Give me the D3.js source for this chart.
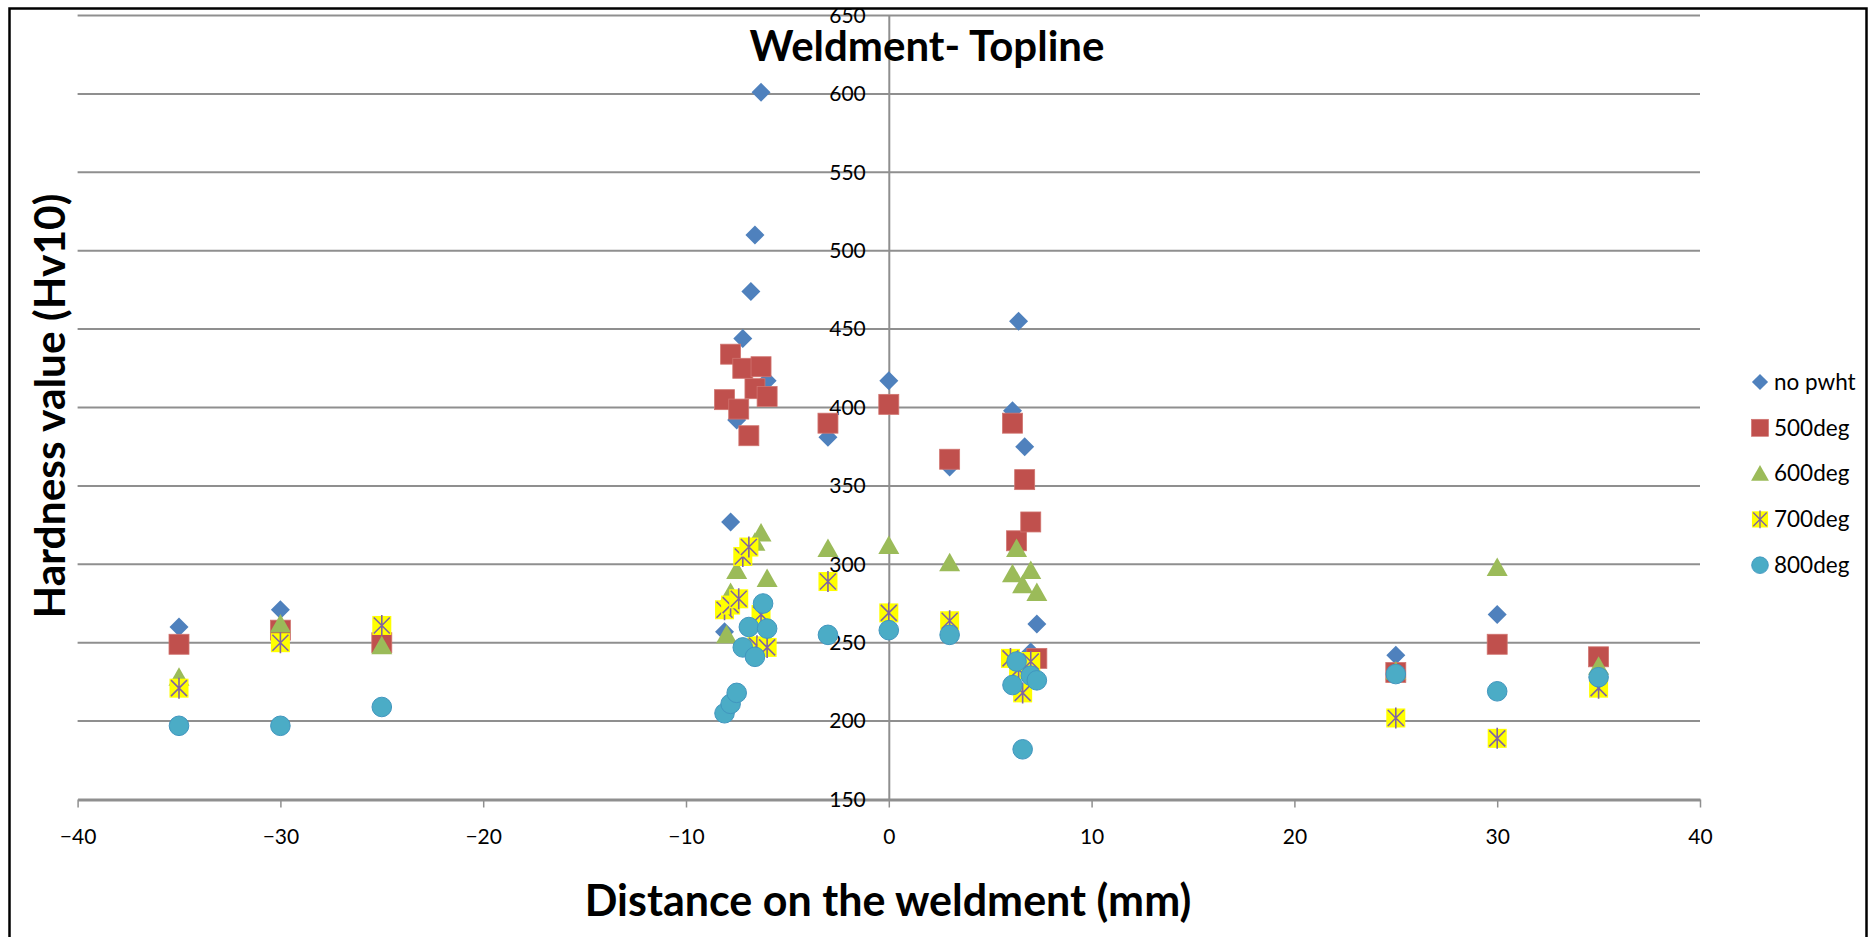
<!DOCTYPE html>
<meta charset="utf-8">
<style>
body {
  margin: 0;
  background: #fff;
}
text {
  font-family: Lato, "Open Sans", sans-serif;
  fill: #000;
}
</style>
<body>
<div id="chart"></div>

<script src="https://d3js.org/d3.v7.min.js"></script>
<script>

// hardness readings per condition: [distance on weldment (mm), Hv10]
var noPwht = [[-35,260],[-30,271],[-8.1,257],[-7.8,327],[-7.5,392],[-7.2,444],[-6.8,474],[-6.6,510],
  [-6.3,601],[-6.0,417],[-3,381],[0,417],[3,362],[6.1,398],[6.4,455],[6.7,375],[7.0,244],[7.3,262],
  [25,242],[30,268]];
var deg500 = [[-35,249],[-30,258],[-25,250],[-8.1,405],[-7.8,434],[-7.4,399],[-7.2,425],[-6.9,382],
  [-6.6,412],[-6.3,426],[-6.0,407],[-3,390],[0,402],[3,367],[6.1,390],[6.3,315],[6.7,354],[7.0,327],
  [7.3,240],[25,231],[30,249],[35,241]];
var deg600 = [[-35,228],[-30,262],[-25,248],[-8.0,255],[-7.8,282],[-7.5,296],[-6.6,314],[-6.3,320],
  [-6.0,291],[-3,310],[0,312],[3,301],[6.1,294],[6.3,310],[6.6,287],[7.0,296],[7.3,282],
  [25,232],[30,298],[35,235]];
var deg700 = [[-35,221],[-30,250],[-25,261],[-8.1,271],[-7.8,274],[-7.4,278],[-7.2,305],[-6.9,311],
  [-6.5,248],[-6.3,268],[-6.0,247],[-3,289],[0,269],[3,264],[6.0,240],[6.4,233],[6.6,218],[7.0,238],
  [25,202],[30,189],[35,221]];
var deg800 = [[-35,197],[-30,197],[-25,209],[-8.1,205],[-7.8,211],[-7.5,218],[-7.2,247],[-6.9,260],
  [-6.6,241],[-6.2,275],[-6.0,259],[-3,255],[0,258],[3,255],[6.1,223],[6.3,238],[6.6,182],[7.0,229],
  [7.3,226],[25,230],[30,219],[35,228]];

var seriesNames = ["no pwht", "500deg", "600deg", "700deg", "800deg"];
var xTicks = [-40, -30, -20, -10, 0, 10, 20, 30, 40];
var yTicks = [150, 200, 250, 300, 350, 400, 450, 500, 550, 600, 650];

var width = 1872, height = 937;
var plot = {left: 77.6, right: 1700, top: 15.5, bottom: 799.5};

var svg = d3.select("#chart")
  .append("svg")
  .attr("width", width)
  .attr("height", height);

// outer chart frame
svg.append("rect")
  .attr("x", 9.5).attr("y", 8.5)
  .attr("width", 1857).attr("height", 960)
  .attr("fill", "#fff")
  .attr("stroke", "#000")
  .attr("stroke-width", 2.5);

var xScale = d3.scaleLinear().domain([-40, 40]).range([plot.left, plot.right]);
var yScale = d3.scaleLinear().domain([150, 650]).range([plot.bottom, plot.top]);

// horizontal gridlines
svg.append("g")
  .selectAll("line")
  .data(yTicks.slice(1))
  .enter()
  .append("line")
    .attr("x1", plot.left)
    .attr("x2", plot.right)
    .attr("y1", function(d) { return yScale(d); })
    .attr("y2", function(d) { return yScale(d); })
    .attr("stroke", "#8f8f8f")
    .attr("stroke-width", 2);

// x axis along the bottom
var xAxis = svg.append("g")
  .attr("transform", "translate(0," + yScale(150) + ")")
  .call(d3.axisBottom(xScale).tickValues(xTicks).tickSize(8).tickPadding(22).tickSizeOuter(0));
xAxis.select(".domain").attr("stroke", "#8f8f8f").attr("stroke-width", 3);
xAxis.selectAll(".tick line").attr("stroke", "#8f8f8f").attr("stroke-width", 1.5);
xAxis.selectAll("text").style("font-size", "21px").style("font-family", "Lato, sans-serif").attr("fill", "#000");

// y axis crossing at x = 0
var yAxis = svg.append("g")
  .attr("transform", "translate(" + xScale(0) + ",0)")
  .call(d3.axisLeft(yScale).tickValues(yTicks).tickSize(0).tickPadding(23).tickSizeOuter(0));
yAxis.select(".domain").attr("stroke", "#8f8f8f").attr("stroke-width", 2);
yAxis.selectAll("text").style("font-size", "21px").style("font-family", "Lato, sans-serif").attr("fill", "#000");

// marker drawing, one per series style
function diamond(g) {
  g.append("path").attr("d", "M0,-9.5L9.5,0L0,9.5L-9.5,0Z").attr("fill", "#4f81bd");
}
function square(g) {
  g.append("rect").attr("x", -10).attr("y", -10).attr("width", 20).attr("height", 20)
    .attr("fill", "#c0504d").attr("stroke", "#d0746f").attr("stroke-width", 0.8);
}
function triangle(g) {
  g.append("path").attr("d", "M0,-10L10.5,8.5L-10.5,8.5Z").attr("fill", "#9bbb59");
}
function star(g) {
  g.append("rect").attr("x", -9.5).attr("y", -9.5).attr("width", 19).attr("height", 19).attr("fill", "#ffff00");
  g.append("path").attr("d", "M-8,-8L8,8M8,-8L-8,8M0,-10.5V10.5")
    .attr("stroke", "#8064a2").attr("stroke-width", 1.6).attr("fill", "none");
}
function circle(g) {
  g.append("circle").attr("r", 9.8).attr("fill", "#4bacc6").attr("stroke", "#4196bf").attr("stroke-width", 1);
}

var series = [
  {name: seriesNames[0], values: noPwht, marker: diamond},
  {name: seriesNames[1], values: deg500, marker: square},
  {name: seriesNames[2], values: deg600, marker: triangle},
  {name: seriesNames[3], values: deg700, marker: star},
  {name: seriesNames[4], values: deg800, marker: circle}
];

series.forEach(function(s) {
  svg.append("g")
    .selectAll("g")
    .data(s.values)
    .enter()
    .append("g")
      .attr("transform", function(d) { return "translate(" + xScale(d[0]) + "," + yScale(d[1]) + ")"; })
      .each(function() { s.marker(d3.select(this)); });
});

// legend
var legend = svg.append("g").attr("transform", "translate(1760,382)");
series.forEach(function(s, i) {
  var row = legend.append("g").attr("transform", "translate(0," + (i * 45.8) + ")");
  var m = row.append("g").attr("transform", "scale(0.85)");
  s.marker(m);
  row.append("text")
    .attr("x", 14)
    .attr("dy", "0.35em")
    .style("font-size", "22.5px")
    .text(s.name);
});

// titles
svg.append("text")
  .attr("x", 927)
  .attr("y", 46)
  .attr("dy", "0.35em")
  .attr("text-anchor", "middle")
  .style("font-size", "42px")
  .style("font-weight", "bold")
  .text("Weldment- Topline");

svg.append("text")
  .attr("transform", "translate(50,406) rotate(-90)")
  .attr("dy", "0.35em")
  .attr("text-anchor", "middle")
  .style("font-size", "42.5px")
  .style("font-weight", "bold")
  .text("Hardness value (Hv10)");

svg.append("text")
  .attr("x", 888)
  .attr("y", 901)
  .attr("dy", "0.35em")
  .attr("text-anchor", "middle")
  .style("font-size", "43px")
  .style("font-weight", "bold")
  .text("Distance on the weldment (mm)");

</script>
</body>
